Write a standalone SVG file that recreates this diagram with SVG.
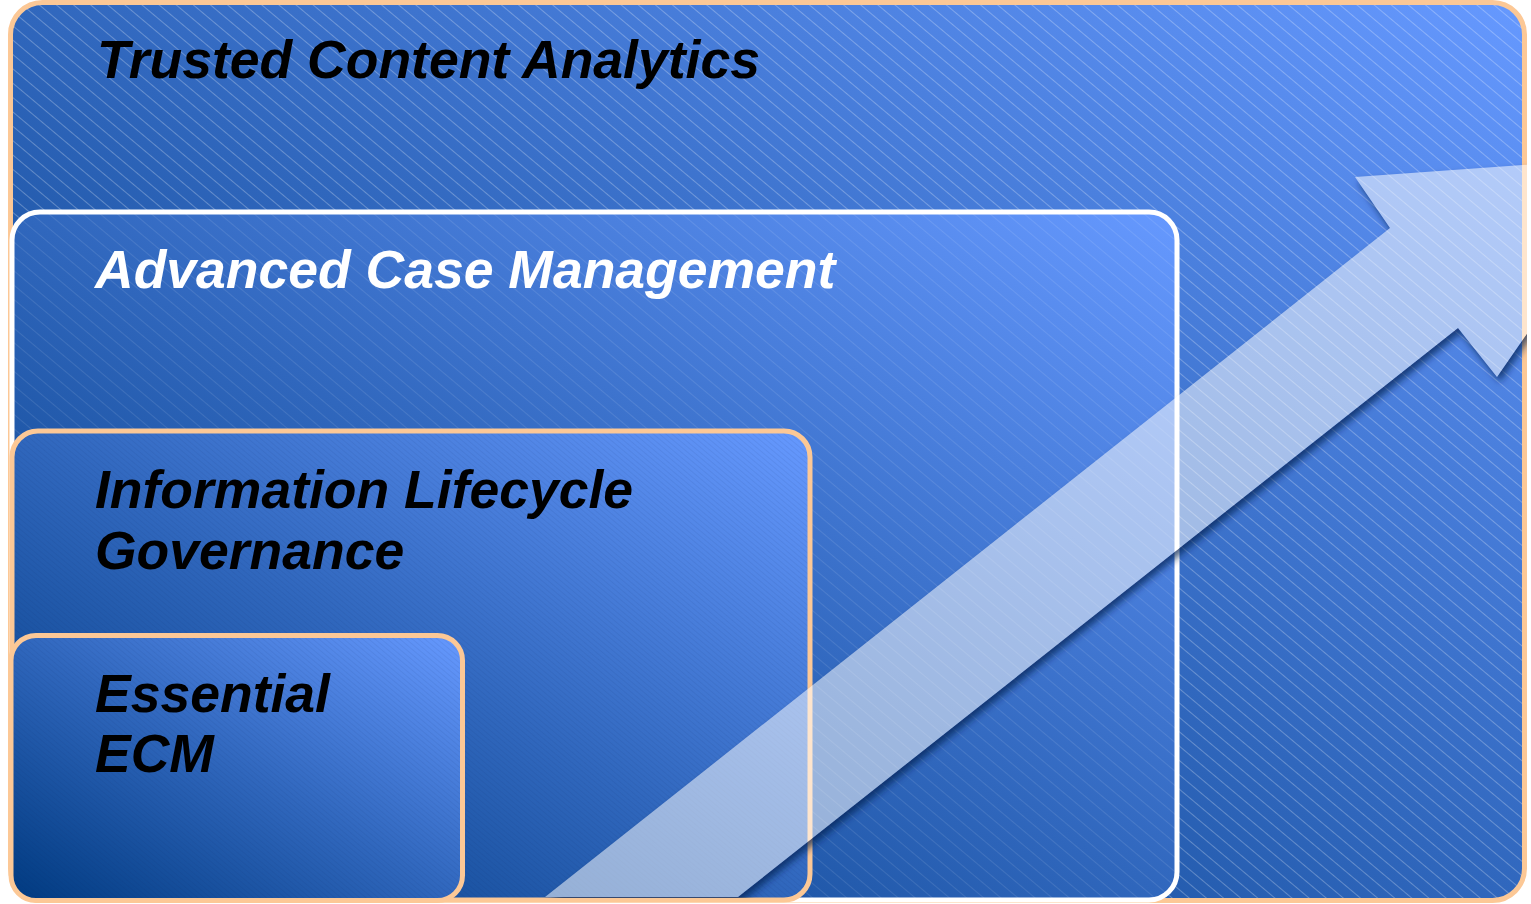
<svg xmlns="http://www.w3.org/2000/svg" xmlns:xlink="http://www.w3.org/1999/xlink" width="1531" height="904" viewBox="0 0 1531 904">
<style>
.lbl{font-family:"Liberation Sans",Arial,sans-serif;font-weight:bold;font-style:italic;font-size:53.5px}
.dark{fill:#000}
.light{fill:#fff}
.peach{stroke:#fcc896;stroke-width:5}
.white{stroke:#fff;stroke-width:5}
</style>
<defs>
<linearGradient id="g" x1="0" y1="1" x2="1" y2="0">
<stop offset="0" stop-color="#003a80"/>
<stop offset="0.5" stop-color="#3067bd"/>
<stop offset="1" stop-color="#6699ff"/>
</linearGradient>
<pattern id="hOuter" width="11" height="11" patternUnits="userSpaceOnUse" patternTransform="rotate(40)">
<line x1="0" y1="0.5" x2="11" y2="0.5" stroke="#fff" stroke-opacity="0.3" stroke-width="0.9"/>
</pattern>
<pattern id="hMid" width="11" height="11" patternUnits="userSpaceOnUse" patternTransform="rotate(40)">
<line x1="0" y1="0.5" x2="11" y2="0.5" stroke="#fff" stroke-opacity="0.1" stroke-width="1"/>
</pattern>
<pattern id="hFine" width="4" height="4" patternUnits="userSpaceOnUse" patternTransform="rotate(40)">
<line x1="0" y1="0.5" x2="4" y2="0.5" stroke="#0a2a60" stroke-opacity="0.08" stroke-width="1"/>
</pattern>
<filter id="shadowOnly" x="-10%" y="-10%" width="130%" height="130%">
<feGaussianBlur in="SourceAlpha" stdDeviation="3.5" result="b"/>
<feOffset in="b" dx="3" dy="5" result="o"/>
<feComposite in="o" in2="SourceAlpha" operator="out" result="s"/>
<feFlood flood-color="#0a2050" flood-opacity="0.7"/>
<feComposite in2="s" operator="in"/>
</filter>
<clipPath id="clipArrow"><rect x="0" y="0" width="1527" height="898"/></clipPath>
<path id="arrowShape" d="M545,897 L1390,228 L1355,177 L1650,156 L1497,377 L1458,328 L738,897 Z"/>
</defs>

<g id="trusted-content-analytics">
<rect x="10.5" y="2.5" width="1514" height="898" rx="32" fill="url(#g)"/>
<rect x="10.5" y="2.5" width="1514" height="898" rx="32" fill="url(#hOuter)" class="peach"/>
<text class="lbl dark" x="97" y="78">Trusted Content Analytics</text>
</g>

<g id="advanced-case-management">
<rect x="12" y="212" width="1165" height="688" rx="28" fill="url(#g)"/>
<rect x="12" y="212" width="1165" height="688" rx="28" fill="url(#hMid)" class="white"/>
<text class="lbl light" x="95" y="288">Advanced Case Management</text>
</g>

<g id="information-lifecycle-governance">
<rect x="12" y="431" width="798" height="469" rx="26" fill="url(#g)"/>
<rect x="12" y="431" width="798" height="469" rx="26" fill="url(#hFine)" class="peach"/>
<text class="lbl dark" x="95" y="508">Information Lifecycle<tspan x="95" y="569">Governance</tspan></text>
</g>

<g id="essential-ecm">
<rect x="11" y="635.5" width="451.5" height="265" rx="25" fill="url(#g)"/>
<rect x="11" y="635.5" width="451.5" height="265" rx="25" fill="url(#hFine)" class="peach"/>
<text class="lbl dark" x="95" y="712">Essential<tspan x="95" y="772">ECM</tspan></text>
</g>

<g id="connectors">
<g id="growth-arrow" clip-path="url(#clipArrow)">
<use xlink:href="#arrowShape" href="#arrowShape" fill="#fff" filter="url(#shadowOnly)"/>
<use xlink:href="#arrowShape" href="#arrowShape" fill="#fff" fill-opacity="0.53"/>
</g>
</g>
</svg>
